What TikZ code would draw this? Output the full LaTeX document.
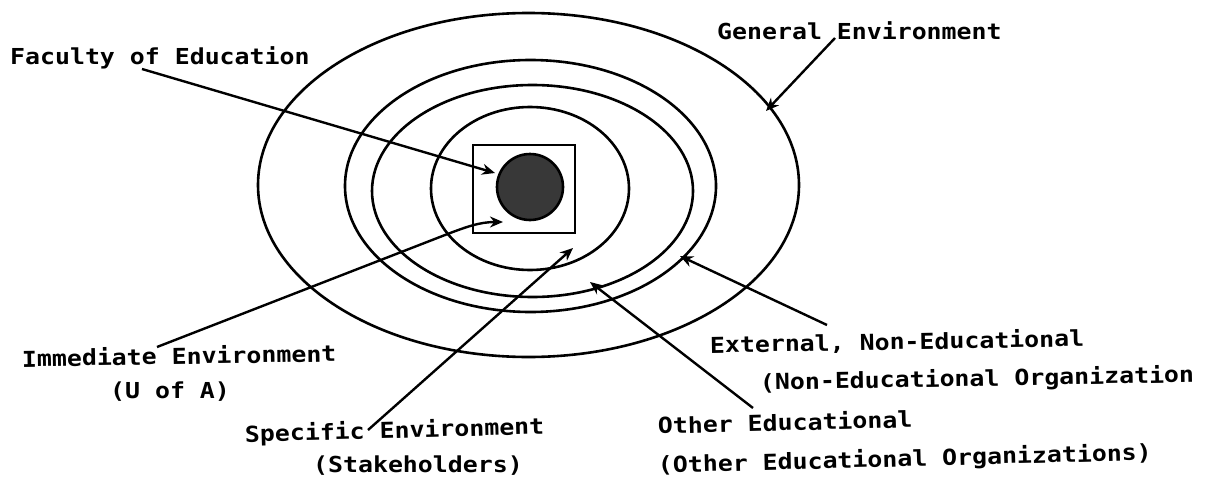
\documentclass[tikz,border=0pt]{standalone}
\usepackage{fontspec}
\newfontfamily\lblfont[FakeStretch=1.13]{DejaVu Sans Mono}
\usetikzlibrary{arrows.meta}
\tikzset{
  ring/.style={line width=2.6pt},
  lbl/.style={font=\lblfont\bfseries\fontsize{22}{26}\selectfont, inner sep=0pt, anchor=base west},
  ptr/.style={line width=2.4pt, -{Stealth[length=13pt,width=11pt]}},
}
\begin{document}
\begin{tikzpicture}[x=1pt,y=-1pt]
\useasboundingbox (0,0) rectangle (1205,479);
\fill[white] (0,0) rectangle (1205,479);

% rings
\draw[ring] (528.5,185) ellipse [x radius=270.5pt, y radius=172pt];
\draw[ring] (530.5,186) ellipse [x radius=185.5pt, y radius=126pt];
\draw[ring] (532.5,191) ellipse [x radius=160.5pt, y radius=106pt];
\draw[ring] (530,188.5) ellipse [x radius=99pt, y radius=81.5pt];
\draw[ring] (473,145) rectangle (575,233);
\filldraw[ring, fill=black!78] (530,187) circle [radius=33pt];

% labels
\node[lbl] (fac) at (10,64) {Faculty of Education};
\node[lbl] (gen) at (717,39) {General Environment};
\node[lbl,rotate=1] (imm) at (22,367) {Immediate Environment};
\node[lbl] (ua) at (110,398) {(U of A)};
\node[lbl,rotate=1.5] (spe) at (245,442) {Specific Environment};
\node[lbl] (stk) at (313,472) {(Stakeholders)};
\node[lbl,rotate=1] (ext) at (710,353) {External, Non-Educational};
\node[lbl,rotate=1] (neo) at (760,390) {(Non-Educational Organization};
\node[lbl,rotate=1.5] (oth) at (658,434) {Other Educational};
\node[lbl,rotate=1.5] (oeo) at (658,473) {(Other Educational Organizations)};

% connector ends
\coordinate (facS) at (142,69);  \coordinate (facT) at (495,173);
\coordinate (immS) at (157,347); \coordinate (immB) at (445,235); \coordinate (immT) at (503,222);
\coordinate (speS) at (368,430); \coordinate (speT) at (573,248);
\coordinate (othS) at (753,408); \coordinate (othT) at (590,282);
\coordinate (extS) at (827,325); \coordinate (extT) at (680,256);
\coordinate (genS) at (835,38);  \coordinate (genT) at (766,111);

% connectors
\draw[ptr] (facS) -- (facT);
\draw[ptr] (immS) -- (immB) to[out=21,in=180] (immT);
\draw[ptr] (speS) -- (speT);
\draw[ptr] (othS) -- (othT);
\draw[ptr] (extS) -- (extT);
\draw[ptr] (genS) -- (genT);
\end{tikzpicture}
\end{document}
